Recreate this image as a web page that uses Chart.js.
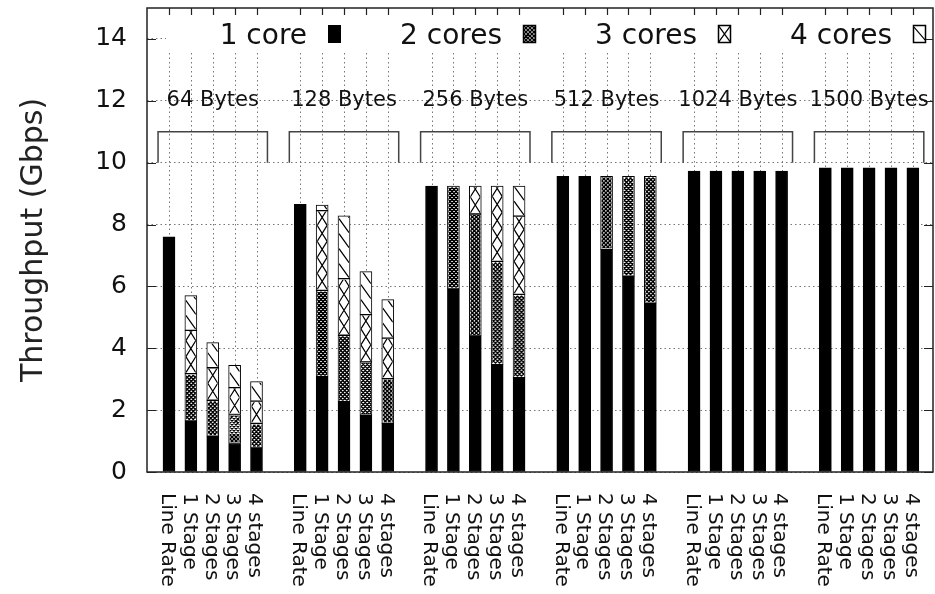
<!DOCTYPE html>
<html><head><meta charset="utf-8">
<script src="https://cdn.jsdelivr.net/npm/chart.js@4/dist/chart.umd.min.js"></script>
<style>html,body{margin:0;padding:0;background:#fff;}canvas{display:block;}</style>
</head><body>
<canvas id="c" width="935" height="594"></canvas>
<script>
// ---- data ----
const groups = ['64 Bytes','128 Bytes','256 Bytes','512 Bytes','1024 Bytes','1500 Bytes'];
const stages = ['Line Rate','1 Stage','2 Stages','3 Stages','4 stages'];
const seriesNames = ['1 core','2 cores','3 cores','4 cores'];
const yTicks = [0,2,4,6,8,10,12,14];
const yTitle = 'Throughput (Gbps)';
const core1 = [7.60,1.65,1.16,0.92,0.78, 8.65,3.08,2.27,1.84,1.57, 9.24,5.92,4.40,3.47,3.05, 9.56,9.56,7.19,6.33,5.46, 9.73,9.73,9.73,9.73,9.73, 9.83,9.83,9.83,9.83,9.83];
const core2 = [null,1.53,1.16,0.94,0.79, null,2.79,2.15,1.72,1.45, null,3.32,3.94,3.34,2.69, null,null,2.37,3.23,4.10, null,null,null,null,null, null,null,null,null,null];
const core3 = [null,1.40,1.05,0.87,0.72, null,2.58,1.83,1.53,1.31, null,null,0.90,2.43,2.53, null,null,null,null,null, null,null,null,null,null, null,null,null,null,null];
const core4 = [null,1.12,0.81,0.72,0.63, null,0.18,2.03,1.39,1.24, null,null,null,null,0.97, null,null,null,null,null, null,null,null,null,null, null,null,null,null,null];

// slot index of each bar: 5 bars per group plus one empty slot between groups
const slotOf = i => Math.floor(i / stages.length) * (stages.length + 1) + (i % stages.length);
const slots = core1.map((_, i) => slotOf(i));
const toPts = arr => arr.map((v, i) => ({x: slotOf(i), y: v}));

const FONT = 'DejaVu Sans';
const INK = '#111';

// ---- fill patterns (drawn inside each bar rectangle) ----
function patCross(ctx, L, T, R, B) {
  const H = B - T, s = 4;
  ctx.lineWidth = 1.4; ctx.strokeStyle = '#000';
  ctx.beginPath();
  for (let c = -H - s; c < (R - L) + s; c += s) {
    ctx.moveTo(L + c, B); ctx.lineTo(L + c + H, T);
    ctx.moveTo(L + c, T); ctx.lineTo(L + c + H, B);
  }
  ctx.stroke();
}
function patX(ctx, L, T, R, B) {
  const P = 16;
  ctx.lineWidth = 1.2; ctx.strokeStyle = '#000';
  ctx.beginPath();
  for (let yy = B; yy > T - P; yy -= P) {
    ctx.moveTo(L, yy); ctx.lineTo(R, yy - P);
    ctx.moveTo(R, yy); ctx.lineTo(L, yy - P);
  }
  ctx.stroke();
}
function patDiag(ctx, L, T, R, B) {
  const P = 15, dy = 14;
  ctx.lineWidth = 1.2; ctx.strokeStyle = '#000';
  ctx.beginPath();
  for (let yy = B; yy > T - dy - P; yy -= P) {
    ctx.moveTo(L, yy - dy); ctx.lineTo(R, yy);
  }
  ctx.stroke();
}
const patterns = [null, patCross, patX, patDiag];

const deco = {
  id: 'deco',
  beforeDatasetsDraw(chart) {
    const ctx = chart.ctx, a = chart.chartArea, xs = chart.scales.x, ys = chart.scales.y;
    ctx.save();
    // vertical dotted grid at each bar
    ctx.strokeStyle = '#777'; ctx.lineWidth = 1; ctx.setLineDash([1.5, 3]);
    ctx.beginPath();
    slots.forEach(p => { const x = Math.round(xs.getPixelForValue(p)) + 0.5; ctx.moveTo(x, a.top); ctx.lineTo(x, a.bottom); });
    ctx.stroke();
    ctx.setLineDash([]);
    // opaque key box
    ctx.fillStyle = '#fff';
    ctx.fillRect(166, a.top + 1, a.right - 166, 41);
    // group brackets + labels
    ctx.strokeStyle = '#444'; ctx.lineWidth = 1.5;
    const y11 = ys.getPixelForValue(11), y10 = ys.getPixelForValue(10), y12 = ys.getPixelForValue(12);
    groups.forEach((g, gi) => {
      const base = gi * (stages.length + 1);
      const xl = xs.getPixelForValue(base - 0.5), xr = xs.getPixelForValue(base + stages.length - 0.5);
      ctx.beginPath();
      ctx.moveTo(xl, y10); ctx.lineTo(xl, y11); ctx.lineTo(xr, y11); ctx.lineTo(xr, y10);
      ctx.stroke();
      ctx.fillStyle = INK; ctx.font = '21px "' + FONT + '"';
      ctx.textAlign = 'center'; ctx.textBaseline = 'middle';
      ctx.fillText(g, xs.getPixelForValue(base + (stages.length - 1) / 2), y12);
    });
    ctx.restore();
  },
  afterDatasetsDraw(chart) {
    const ctx = chart.ctx;
    for (let d = 1; d < 4; d++) {
      const meta = chart.getDatasetMeta(d);
      const raw = chart.data.datasets[d].data;
      meta.data.forEach((el, j) => {
        if (raw[j].y == null) return;
        const {x, y, base, width} = el.getProps(['x', 'y', 'base', 'width'], true);
        const L = x - width / 2 + 1, R = x + width / 2 - 1;
        const T = Math.min(y, base) + 1, B = Math.max(y, base) - 1;
        if (B <= T) return;
        ctx.save();
        ctx.beginPath(); ctx.rect(L, T, R - L, B - T); ctx.clip();
        patterns[d](ctx, L, T, R, B);
        ctx.restore();
      });
    }
  },
  afterDraw(chart) {
    const ctx = chart.ctx, a = chart.chartArea, xs = chart.scales.x, ys = chart.scales.y;
    ctx.save();
    // frame
    ctx.strokeStyle = '#222'; ctx.lineWidth = 1.5;
    ctx.strokeRect(a.left, a.top, a.right - a.left, a.bottom - a.top);
    // y tick marks (left + mirrored right)
    ctx.lineWidth = 1.2; ctx.beginPath();
    yTicks.forEach(v => {
      const y = Math.round(ys.getPixelForValue(v)) + 0.5;
      ctx.moveTo(a.left, y); ctx.lineTo(a.left + 9, y);
      ctx.moveTo(a.right - 9, y); ctx.lineTo(a.right, y);
    });
    // top x tick marks
    slots.forEach(p => { const x = Math.round(xs.getPixelForValue(p)) + 0.5; ctx.moveTo(x, a.top); ctx.lineTo(x, a.top + 7); });
    ctx.stroke();
    // key
    ctx.font = '28px "' + FONT + '"'; ctx.fillStyle = INK;
    ctx.textAlign = 'right'; ctx.textBaseline = 'alphabetic';
    seriesNames.forEach((n, i) => {
      const sx = 328 + 195 * i, sy = 25, sw = 13, sh = 18;
      ctx.fillStyle = INK;
      ctx.fillText(n, sx - 21, 44);
      if (i === 0) { ctx.fillStyle = '#000'; ctx.fillRect(sx, sy, sw, sh); }
      else {
        ctx.save(); ctx.beginPath(); ctx.rect(sx + 1, sy + 1, sw - 2, sh - 2); ctx.clip();
        if (i === 1) patCross(ctx, sx + 1, sy + 1, sx + sw - 1, sy + sh - 1);
        if (i === 2) { ctx.lineWidth = 1.2; ctx.strokeStyle = '#000'; ctx.beginPath(); ctx.moveTo(sx, sy); ctx.lineTo(sx + sw, sy + sh); ctx.moveTo(sx + sw, sy); ctx.lineTo(sx, sy + sh); ctx.stroke(); }
        if (i === 3) { ctx.lineWidth = 1.2; ctx.strokeStyle = '#000'; ctx.beginPath(); ctx.moveTo(sx, sy + 1); ctx.lineTo(sx + sw, sy + sh - 2); ctx.stroke(); }
        ctx.restore();
        ctx.strokeStyle = '#000'; ctx.lineWidth = 1.5; ctx.strokeRect(sx + 0.5, sy + 0.5, sw - 1, sh - 1);
      }
    });
    // rotated x labels (reading downward)
    ctx.font = '20px "' + FONT + '"'; ctx.fillStyle = INK;
    ctx.textAlign = 'left'; ctx.textBaseline = 'middle';
    slots.forEach((p, i) => {
      ctx.save();
      ctx.translate(xs.getPixelForValue(p) - 2, 493);
      ctx.rotate(Math.PI / 2);
      ctx.fillText(stages[i % stages.length], 0, 0);
      ctx.restore();
    });
    // y title
    ctx.save();
    ctx.font = '30px "' + FONT + '"'; ctx.fillStyle = '#222';
    ctx.textAlign = 'center'; ctx.textBaseline = 'middle';
    ctx.translate(34, (a.top + a.bottom) / 2);
    ctx.rotate(-Math.PI / 2);
    ctx.fillText(yTitle, 0, 0);
    ctx.restore();
    ctx.restore();
  }
};

const mk = (label, arr, bg) => ({
  label, data: toPts(arr), backgroundColor: bg, borderColor: '#000', borderWidth: 1,
  borderSkipped: false, barThickness: 12
});

new Chart(document.getElementById('c'), {
  type: 'bar',
  data: {
    datasets: [
      mk(seriesNames[0], core1, '#000'),
      mk(seriesNames[1], core2, '#fff'),
      mk(seriesNames[2], core3, '#fff'),
      mk(seriesNames[3], core4, '#fff')
    ]
  },
  options: {
    responsive: false, animation: false, devicePixelRatio: 1,
    layout: {padding: {top: 8, right: 2, left: 0, bottom: 0}},
    plugins: {legend: {display: false}, tooltip: {enabled: false}},
    scales: {
      x: {
        type: 'linear', min: -1.005, max: 34.92, stacked: true, offset: false,
        grid: {display: false}, ticks: {display: false}, border: {display: false},
        afterFit(s) { s.height = 122; s.paddingLeft = 0; s.paddingRight = 0; s.paddingTop = 0; s.paddingBottom = 0; }
      },
      y: {
        type: 'linear', min: 0, max: 15, stacked: true,
        afterBuildTicks(s) { s.ticks = yTicks.map(v => ({value: v})); },
        ticks: {font: {family: FONT, size: 25}, color: INK, padding: 20},
        grid: {color: '#777', lineWidth: 1, drawTicks: false},
        border: {display: false, dash: [1.5, 3]},
        afterFit(s) { s.width = 147; s.paddingTop = 0; s.paddingBottom = 0; s.paddingLeft = 0; s.paddingRight = 0; }
      }
    }
  },
  plugins: [deco]
});
</script>
</body></html>
